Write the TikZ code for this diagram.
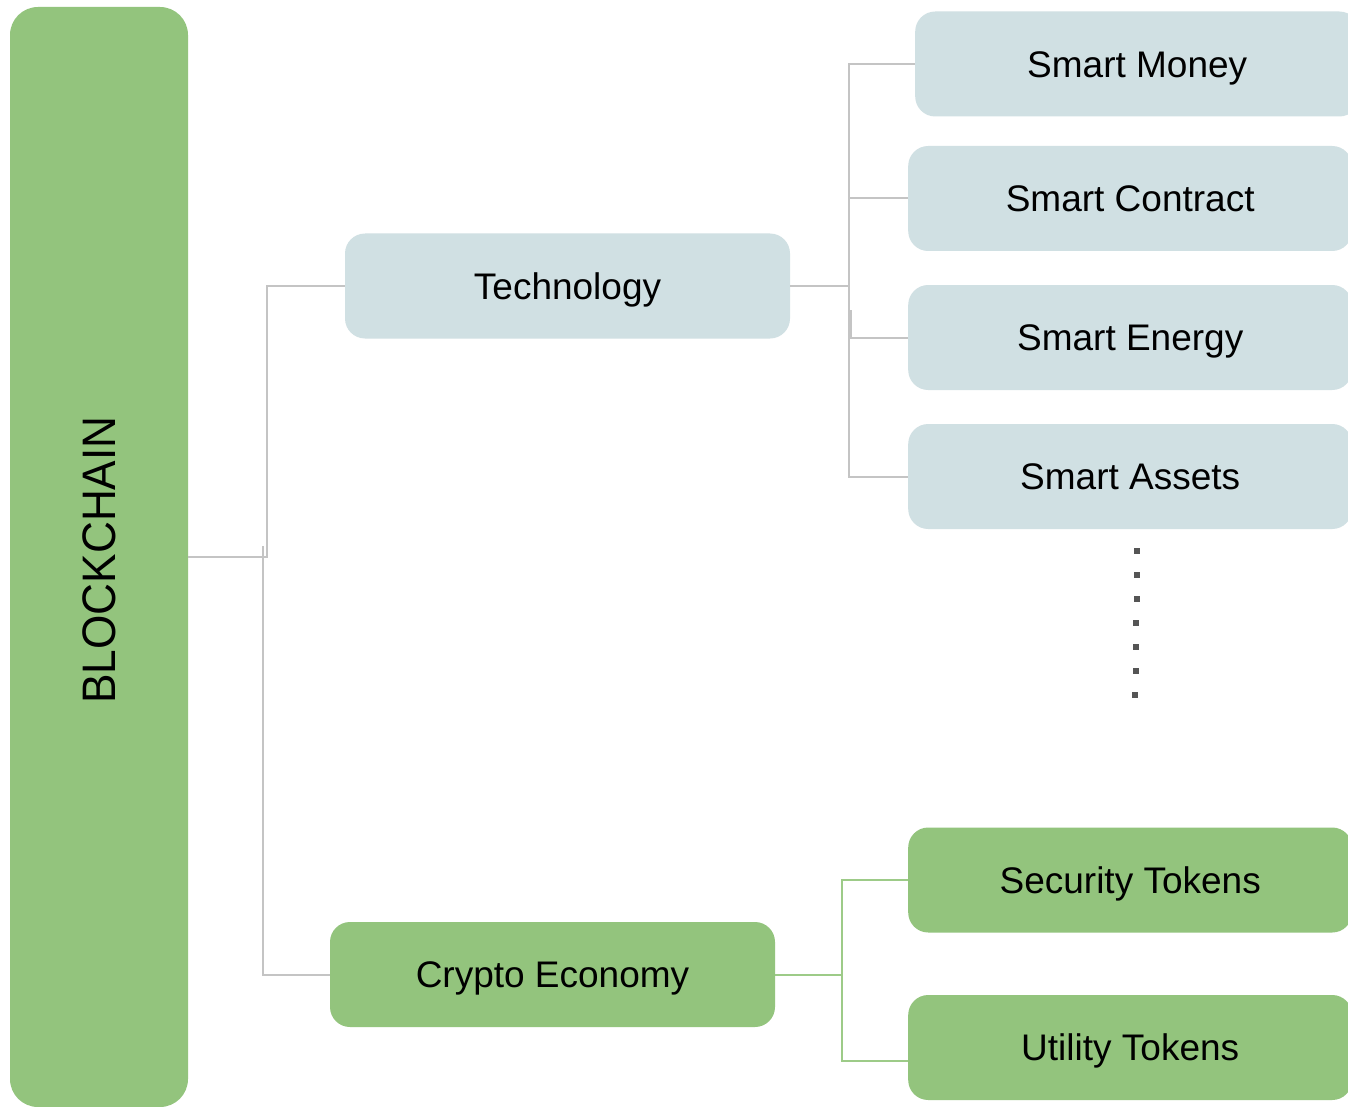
\documentclass[tikz,border=0pt]{standalone}
\usepackage{fontspec}
\setmainfont{Liberation Sans}
\definecolor{boxgreen}{HTML}{93C47D}
\definecolor{boxblue}{HTML}{D0E0E3}
\definecolor{conngrey}{HTML}{C4C4C4}
\definecolor{conngreen}{HTML}{9DCB88}
\definecolor{dotgrey}{HTML}{555555}
\begin{document}
\begin{tikzpicture}[x=1pt,y=-1pt,
  bluebox/.style={rectangle,rounded corners=20pt,fill=boxblue,inner sep=0pt,
    minimum height=105pt,text height=26.5pt,text depth=0pt,font=\fontsize{37}{44}\selectfont},
  greenbox/.style={bluebox,fill=boxgreen},
  leafbox/.style={minimum width=444pt,anchor=west},
  midbox/.style={minimum width=445pt},
  conn/.style={draw=conngrey,line width=2pt},
  gconn/.style={draw=conngreen,line width=2pt},
  dotsq/.style={fill=dotgrey,draw=none,minimum size=6pt,inner sep=0pt,rectangle}]
\useasboundingbox (0,0) rectangle (1348,1107);
\fill[white] (0,0) rectangle (1348,1107);

% root
\node[rectangle,rounded corners=28pt,fill=boxgreen,minimum width=178pt,minimum height=1100pt,inner sep=0pt] (bc) at (99,557) {};
\node[rotate=90,font=\fontsize{47}{50}\selectfont,inner sep=0pt,text height=33.6pt,text depth=0pt] (bclabel) at (99,560) {\scalebox{0.94}[1]{BLOCKCHAIN}};

% middle nodes
\node[bluebox,midbox] (tech) at (567.5,286) {Technology};
\node[greenbox,midbox] (crypto) at (552.5,974.5) {Crypto Economy};

% leaves
\node[bluebox,leafbox] (money) at (915,64) {Smart Money};
\node[bluebox,leafbox] (contract) at (908,198.5) {Smart Contract};
\node[bluebox,leafbox] (energy) at (908,337.5) {Smart Energy};
\node[bluebox,leafbox] (assets) at (908,476.5) {Smart Assets};
\node[greenbox,leafbox] (security) at (908,880) {Security Tokens};
\node[greenbox,leafbox] (utility) at (908,1047.5) {Utility Tokens};

% connectors from root
\coordinate (rj) at (267,557);
\coordinate (rj2) at (263,546);
\draw[conn] (bc.east) -- (rj) |- (tech.west);
\draw[conn] (rj2) |- (crypto.west);

% technology tree
\coordinate (tj) at (849,286);
\coordinate (tj2a) at (851,310);
\coordinate (tj2b) at (851,337.5);
\draw[conn] (tech.east) -- (tj);
\draw[conn] (tj) |- (money.west);
\draw[conn] (tj) |- (contract.west);
\draw[conn] (tj) |- (energy.west);
\draw[conn] (tj) |- (assets.west);
\draw[conn] (tj2a) -- (tj2b);

% crypto tree
\coordinate (cj) at (842,974.5);
\coordinate (uend) at (908,1061);
\draw[gconn] (crypto.east) -- (cj);
\draw[gconn] (cj) |- (security.west);
\draw[gconn] (cj) |- (uend);

% dots
\foreach \i/\xx in {0/1137,1/1137,2/1136.5,3/1136,4/1136,5/1135.5,6/1135}{
  \node[dotsq] (dot\i) at (\xx,{551+24*\i}) {};
}
\end{tikzpicture}
\end{document}
